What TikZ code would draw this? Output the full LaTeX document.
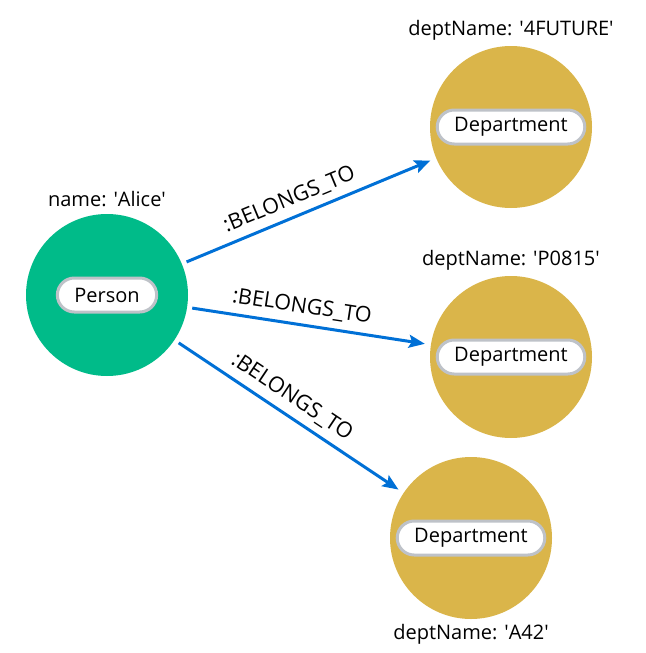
\documentclass[tikz,border=0pt]{standalone}
\usepackage{fontspec}
\setmainfont{Open Sans}
\usetikzlibrary{arrows.meta, positioning}

\definecolor{personfill}{RGB}{0,187,137}
\definecolor{deptfill}{RGB}{218,181,74}
\definecolor{relblue}{RGB}{0,112,214}
\definecolor{pillgrey}{RGB}{190,194,200}
\newcommand{\sq}{\textquotesingle}

\begin{document}
\begin{tikzpicture}[x=1pt, y=-1pt,
	every node/.style={font=\fontsize{20}{24}\selectfont},
	person/.style={circle, fill=personfill, minimum size=162pt, inner sep=0pt},
	dept/.style={circle, fill=deptfill, minimum size=162pt, inner sep=0pt},
	pill/.style={draw=pillgrey, fill=white, line width=3pt, rounded corners=17pt,
		minimum height=34pt, inner xsep=17pt, inner ysep=0pt},
	prop/.style={inner sep=0pt},
	rel/.style={draw=relblue, line width=3pt, shorten <=5pt, shorten >=6pt,
		-{Stealth[length=16pt, width=13pt, inset=3pt]}},
	rellbl/.style={sloped, above=7pt, inner sep=0pt, font=\fontsize{21.5}{24}\selectfont}]
	\useasboundingbox (0,0) rectangle (645,653);
	% the person
	\node[person] (alice) at (107,295) {};
	\node[pill] (alicepill) at (alice) {Person};
	\node[prop, above=7pt of alice] (alicename) {name: \sq Alice\sq};
	% three departments
	\node[dept] (future) at (511,127) {};
	\node[pill] (futurepill) at (future) {Department};
	\node[prop, above=5pt of future] (futurename) {deptName: \sq 4FUTURE\sq};
	\node[dept] (pdept) at (511,357) {};
	\node[pill] (pdeptpill) at (pdept) {Department};
	\node[prop, above=5pt of pdept] (pdeptname) {deptName: \sq P0815\sq};
	\node[dept] (adept) at (471,538) {};
	\node[pill] (adeptpill) at (adept) {Department};
	\node[prop, below=5pt of adept] (adeptname) {deptName: \sq A42\sq};
	% relationships
	\draw[rel] (alice) -- (future) node[rellbl, pos=0.45] {:BELONGS\_TO};
	\draw[rel] (alice) -- (pdept) node[rellbl, pos=0.46] {:BELONGS\_TO};
	\draw[rel] (alice) -- (adept) node[rellbl, pos=0.47] {:BELONGS\_TO};
\end{tikzpicture}
\end{document}
